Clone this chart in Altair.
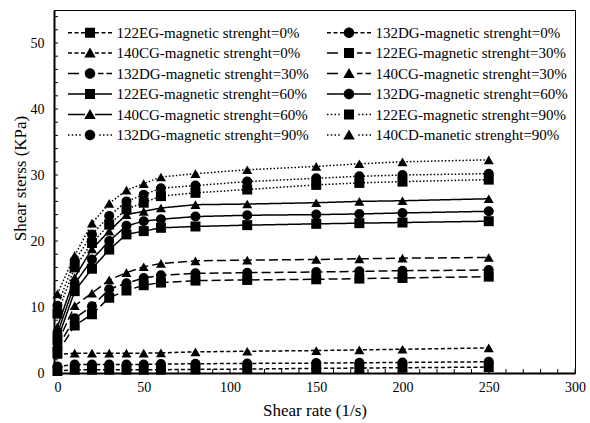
import altair as alt
import pandas as pd

FONT = "Liberation Serif"

shear_rate = [0, 10, 20, 30, 40, 50, 60, 80, 110, 150, 175, 200, 250]

series_names = [
    "122EG-magnetic strenght=0%", "132DG-magnetic strenght=0%",
    "140CG-magnetic strenght=0%", "122EG-magnetic strenght=30%",
    "132DG-magnetic strenght=30%", "140CG-magnetic strenght=30%",
    "122EG-magnetic strenght=60%", "132DG-magnetic strenght=60%",
    "140CG-magnetic strenght=60%", "122EG-magnetic strenght=90%",
    "132DG-magnetic strenght=90%", "140CD-manetic strenght=90%",
]

eg122_0 = [0.3, 0.5, 0.5, 0.5, 0.5, 0.5, 0.5, 0.55, 0.6, 0.7, 0.75, 0.8, 0.9]
dg132_0 = [1.0, 1.3, 1.3, 1.3, 1.3, 1.3, 1.35, 1.4, 1.45, 1.5, 1.55, 1.6, 1.7]
cg140_0 = [2.8, 3.0, 3.0, 3.0, 3.0, 3.0, 3.05, 3.2, 3.3, 3.4, 3.5, 3.6, 3.8]

eg122_30 = [3.0, 7.2, 8.9, 11.4, 12.5, 13.3, 13.7, 14.0, 14.1, 14.2, 14.3, 14.4, 14.6]
dg132_30 = [3.8, 8.3, 10.1, 12.7, 13.6, 14.4, 14.8, 15.1, 15.2, 15.3, 15.4, 15.5, 15.6]
cg140_30 = [4.5, 10.2, 12.1, 14.1, 15.2, 16.1, 16.6, 17.0, 17.1, 17.2, 17.3, 17.4, 17.5]

eg122_60 = [5.0, 12.4, 15.8, 18.7, 21.0, 21.5, 22.0, 22.2, 22.4, 22.6, 22.7, 22.8, 23.0]
dg132_60 = [6.0, 13.5, 17.2, 20.0, 22.3, 23.0, 23.3, 23.7, 23.9, 24.0, 24.1, 24.25, 24.5]
cg140_60 = [7.0, 14.5, 18.8, 21.5, 24.0, 24.5, 25.0, 25.5, 25.6, 25.8, 26.0, 26.1, 26.4]

eg122_90 = [9.0, 16.0, 19.7, 22.5, 24.8, 25.8, 26.8, 27.3, 27.8, 28.5, 28.8, 29.0, 29.3]
dg132_90 = [10.2, 17.0, 21.0, 23.8, 26.0, 27.0, 28.0, 28.4, 29.0, 29.5, 29.8, 30.0, 30.2]
cd140_90 = [12.0, 17.8, 22.7, 25.7, 27.7, 28.7, 29.7, 30.2, 30.8, 31.3, 31.7, 32.0, 32.3]

all_values = [eg122_0, dg132_0, cg140_0, eg122_30, dg132_30, cg140_30,
              eg122_60, dg132_60, cg140_60, eg122_90, dg132_90, cd140_90]

x_ticks = list(range(0, 301, 10))
y_ticks = list(range(0, 55, 2))

rows = []
for name, vals in zip(series_names, all_values):
    for xv, yv in zip(shear_rate, vals):
        rows.append({"series": name, "marker": name, "label": name,
                     "rate": xv, "stress": yv})
df = pd.DataFrame(rows)

short_dash = [4, 2.5]
long_dash = [9, 4]
solid = [1, 0]
dotted = [1.5, 2]
dash_range = [short_dash] * 3 + [long_dash] * 3 + [solid] * 3 + [dotted] * 3
shape_range = ["square", "circle", "triangle-up"] * 4


# ---- legend glyphs (filled paths: dashed line segment + marker), 1 unit = 5 px
def seg(a, b):
    return f"M{a:.2f},-0.16H{b:.2f}V0.16H{a:.2f}Z"


def pattern(lo, hi, dash, gap, from_right=False):
    out, p = [], lo
    if from_right:
        p = hi
        while p - dash >= lo - 1e-6:
            out.append(seg(p - dash, p))
            p -= dash + gap
    else:
        while p + dash <= hi + 1e-6:
            out.append(seg(p, p + dash))
            p += dash + gap
    return "".join(out)


line_glyphs = {
    "short": pattern(-4.4, -1.0, 0.8, 0.5) + pattern(1.0, 4.4, 0.8, 0.5, True),
    "long": seg(-4.4, -2.2) + seg(1.6, 2.7) + seg(3.3, 4.4),
    "solid": seg(-4.4, -1.0) + seg(1.0, 4.4),
    "dot": pattern(-4.4, -1.2, 0.3, 0.45) + pattern(1.2, 4.4, 0.3, 0.45, True),
}
marker_glyphs = {
    "square": "M-1,-1H1V1H-1Z",
    "circle": "M-1.05,0A1.05,1.05,0,1,1,1.05,0A1.05,1.05,0,1,1,-1.05,0Z",
    "triangle": "M0,-1.1L1.15,0.9H-1.15Z",
}
legend_shape_range = [
    line_glyphs[ls] + marker_glyphs[mk]
    for ls in ["short", "long", "solid", "dot"]
    for mk in ["square", "circle", "triangle"]
]

x_scale = alt.Scale(domain=[-2, 300], nice=False, zero=False)
y_scale = alt.Scale(domain=[0, 55], nice=False, zero=False)

x_axis = alt.Axis(
    values=x_ticks, tickCount=200, format="d",
    labelExpr="datum.value % 50 == 0 ? datum.label : ''",
    ticks=False, tickSize=0, grid=False,
    domainColor="black", domainWidth=2,
    labelFont=FONT, labelFontSize=14, labelColor="black", labelPadding=7,
    labelFlush=False, labelOverlap=False,
    title="Shear rate (1/s)", titleFont=FONT, titleFontSize=17,
    titleFontWeight="normal", titleColor="black",
    titleY=42, titleBaseline="alphabetic",
)
y_axis = alt.Axis(
    values=y_ticks, tickCount=200, format="d",
    labelExpr="datum.value % 10 == 0 ? datum.label : ''",
    ticks=False, tickSize=0, grid=False,
    domainColor="black", domainWidth=2,
    labelFont=FONT, labelFontSize=14, labelColor="black", labelPadding=10,
    labelFlush=False, labelOverlap=False,
    title="Shear sterss (KPa)", titleFont=FONT, titleFontSize=17,
    titleFontWeight="normal", titleColor="black",
    titleX=-29, titleY=168, titleBaseline="alphabetic",
)

legend = alt.Legend(
    title=None, orient="none", legendX=14, legendY=15, columns=2,
    direction="horizontal",
    columnPadding=18, rowPadding=4.5, padding=0,
    labelFont=FONT, labelFontSize=15, labelColor="black", labelLimit=400,
    labelOffset=19, symbolOffset=14.5, symbolSize=100,
    symbolStrokeWidth=0, symbolFillColor="black",
    symbolOpacity=1,
)

base = alt.Chart(df)

lines = base.mark_line(color="black", strokeWidth=1.5).encode(
    x=alt.X("rate:Q", scale=x_scale, axis=x_axis),
    y=alt.Y("stress:Q", scale=y_scale, axis=y_axis),
    strokeDash=alt.StrokeDash("series:N",
                              scale=alt.Scale(domain=series_names, range=dash_range),
                              legend=None),
)

points = base.mark_point(filled=True, color="black", size=100, opacity=1).encode(
    x=alt.X("rate:Q", scale=x_scale, axis=None),
    y=alt.Y("stress:Q", scale=y_scale, axis=None),
    shape=alt.Shape("marker:N",
                    scale=alt.Scale(domain=series_names, range=shape_range),
                    legend=None),
)

legend_layer = base.transform_filter("false").mark_point(
    filled=True, color="black", size=100, opacity=1,
).encode(
    x=alt.X("rate:Q", scale=x_scale, axis=None),
    y=alt.Y("stress:Q", scale=y_scale, axis=None),
    shape=alt.Shape("label:N",
                    scale=alt.Scale(domain=series_names, range=legend_shape_range),
                    legend=legend),
)

# inward minor/major tick marks along the bottom and left axes
x_tick_marks = alt.Chart(pd.DataFrame({"rate": x_ticks})).mark_rule(
    color="black", strokeWidth=1
).encode(
    x=alt.X("rate:Q", scale=x_scale, axis=None),
    y=alt.value(363), y2=alt.value(359),
)
y_tick_marks = alt.Chart(pd.DataFrame({"stress": y_ticks})).mark_rule(
    color="black", strokeWidth=1
).encode(
    y=alt.Y("stress:Q", scale=y_scale, axis=None),
    x=alt.value(0), x2=alt.value(4),
)

chart = alt.layer(lines, points, legend_layer, x_tick_marks, y_tick_marks).resolve_scale(
    shape="independent"
).resolve_axis(
    x="independent", y="independent"
).properties(
    width=521, height=363,
    autosize=alt.AutoSizeParams(type="none"),
    padding={"left": 54, "top": 10, "right": 15, "bottom": 50},
    background="white",
).configure_view(stroke="black", strokeWidth=1)

chart.save("out.html", embed_options={"renderer": "svg", "actions": False})
